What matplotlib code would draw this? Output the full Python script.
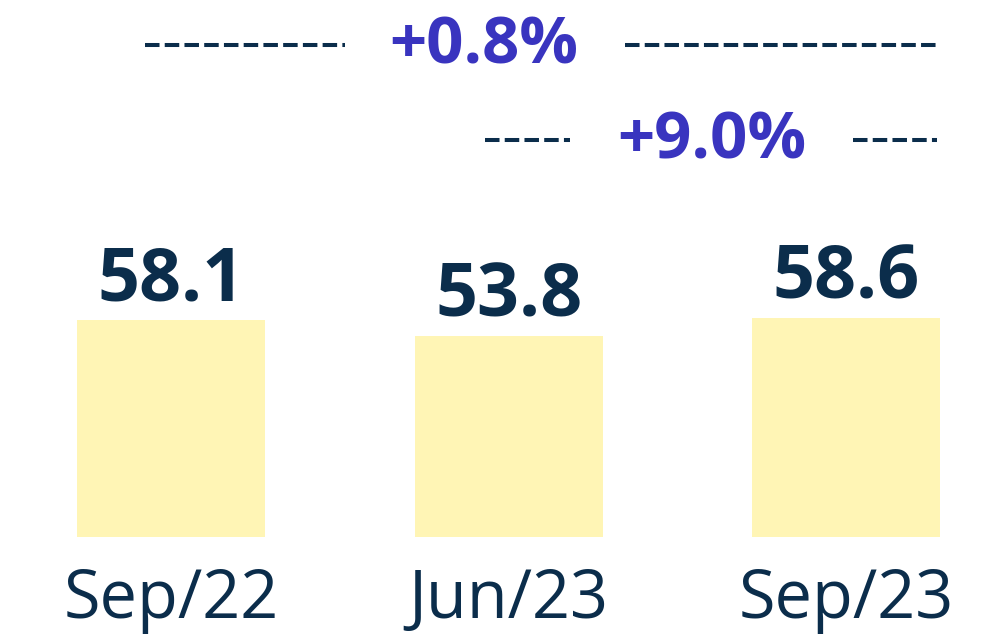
import matplotlib.pyplot as plt

# Data
categories = ["Sep/22", "Jun/23", "Sep/23"]
values = [58.1, 53.8, 58.6]
value_labels = ["58.1", "53.8", "58.6"]
changes = ["+0.8%", "+9.0%"]

navy = "#0B2D4B"
purple = "#3934BF"
bar_color = "#FFF5B5"

plt.rcParams["font.family"] = ["Open Sans", "DejaVu Sans"]

fig = plt.figure(figsize=(10.04, 6.35), dpi=100)
ax = fig.add_axes([0, 98 / 635, 1, 537 / 635])
ax.set_xlim(-0.5067, 2.468)
ax.set_ylim(0, 143.8)
ax.axis("off")

x = range(len(categories))
ax.bar(x, values, width=0.557, color=bar_color)

# Value labels
for i, v in enumerate(values):
    ax.annotate(value_labels[i], (i, v), xytext=(0, 14), textcoords="offset points",
                ha="center", va="baseline", fontsize=53, fontweight="bold", color=navy)

# Category labels
for i, c in enumerate(categories):
    ax.text(i, -21.6, c, ha="center", va="baseline", fontsize=48, color=navy)

# Change brackets
dash = dict(color=navy, lw=2.9, linestyle=(0, (3.6, 1.3)), solid_capstyle="butt")
ax.plot([-0.077, 0.516], [131.7, 131.7], **dash)
ax.plot([1.345, 2.27], [131.7, 131.7], **dash)
ax.text(0.927, 131.2, changes[0], ha="center", va="center", fontsize=47,
        fontweight="bold", color=purple)

ax.plot([0.93, 1.182], [106.3, 106.3], **dash)
ax.plot([2.021, 2.27], [106.3, 106.3], **dash)
ax.text(1.603, 105.8, changes[1], ha="center", va="center", fontsize=47,
        fontweight="bold", color=purple)

fig.savefig("out.png", dpi=100)
